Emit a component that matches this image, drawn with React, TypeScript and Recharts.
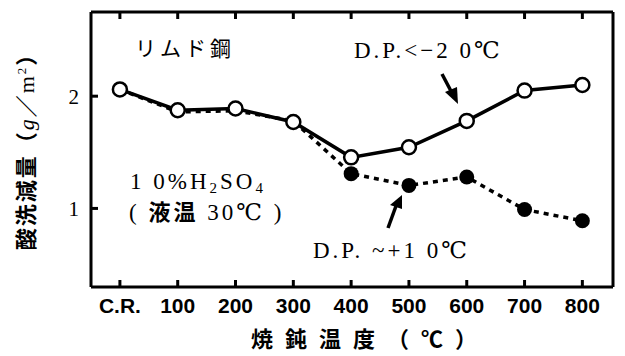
import React from 'react';
import { LineChart, Line, XAxis, YAxis } from 'recharts';

const categories = ['C.R.', '100', '200', '300', '400', '500', '600', '700', '800'];
const dryValues = [2.06, 1.875, 1.89, 1.77, 1.455, 1.545, 1.78, 2.05, 2.1];
const wetValues = [2.06, 1.86, 1.87, 1.78, 1.31, 1.205, 1.28, 0.99, 0.89];
const yTicks = [1, 2];
const xTicks = categories.map((_, i) => i);

const data = categories.map((c, i) => ({ i, name: c, dry: dryValues[i], wet: wetValues[i] }));

const serif = '"Liberation Serif", "DejaVu Serif", serif';
const jp = '"Noto Sans CJK JP", sans-serif';
const frame = { stroke: '#000', strokeWidth: 3 };
const tickStroke = { stroke: '#000', strokeWidth: 3 };

const WetDot = (props: any) => {
  const { cx, cy, index } = props;
  if (index < 4) return <g key={index} />;
  return <circle key={index} cx={cx} cy={cy} r={7.5} fill="#000" />;
};

const App = () => {
  return (
    <div style={{ position: 'absolute', left: 0, top: 0, width: 625, height: 356, background: '#fff' }}>
      <style>{'body{margin:0}'}</style>
      <LineChart width={625} height={356} data={data} margin={{ top: 10, right: 10, bottom: 39, left: 51 }}>
        <XAxis xAxisId="b" dataKey="i" type="number" domain={[-0.5, 8.53]} ticks={xTicks} height={30}
          tickSize={-7} tickMargin={18} tickLine={tickStroke} axisLine={frame}
          tickFormatter={(v: number) => categories[v]}
          tick={{ fill: '#000', fontSize: 21, fontWeight: 'bold', fontFamily: '"Liberation Sans Narrow", "Liberation Sans", sans-serif' }} />
        <XAxis xAxisId="t" orientation="top" dataKey="i" type="number" domain={[-0.5, 8.53]} ticks={xTicks} height={2}
          tickSize={-7} tickMargin={0} tickLine={tickStroke} axisLine={frame} tickFormatter={() => ''} />
        <YAxis yAxisId="l" type="number" domain={[0.3, 2.75]} ticks={yTicks} width={40}
          tickSize={-7} tickMargin={19} tickLine={tickStroke} axisLine={frame}
          tick={{ fill: '#000', fontSize: 21, fontFamily: serif }} />
        <YAxis yAxisId="r" orientation="right" type="number" domain={[0.3, 2.75]} ticks={yTicks} width={2}
          tickSize={-7} tickMargin={0} tickLine={tickStroke} axisLine={frame} tickFormatter={() => ''} />
        <Line xAxisId="b" yAxisId="l" dataKey="wet" type="linear" stroke="#000" strokeWidth={3.5} strokeDasharray="5 5"
          dot={WetDot} isAnimationActive={false} />
        <Line xAxisId="b" yAxisId="l" dataKey="dry" type="linear" stroke="#000" strokeWidth={3.5}
          dot={{ r: 7, fill: '#fff', stroke: '#000', strokeWidth: 2.5 }} isAnimationActive={false} />
      </LineChart>
      <svg width={625} height={356} style={{ position: 'absolute', left: 0, top: 0, pointerEvents: 'none' }}>
        <text transform="translate(34,146) rotate(-90)" textAnchor="middle" fontFamily={jp} fontWeight="bold" fontSize={22} fill="#000" letterSpacing={2}>
          酸洗減量（<tspan fontFamily={serif} fontStyle="italic" fontWeight="normal">g</tspan>／<tspan fontFamily={serif} fontWeight="normal">m</tspan><tspan fontFamily={serif} fontWeight="normal" fontSize={13} dy={-8}>2</tspan><tspan dy={8}>）</tspan>
        </text>
        <text x={370} y={347} textAnchor="middle" fontFamily={jp} fontWeight="bold" fontSize={22} fill="#000" letterSpacing={12}>
          焼鈍温度（℃）
        </text>
        <text x={135} y={56} fontFamily={jp} fontSize={21} fill="#000" letterSpacing={4}>リムド鋼</text>
        <text x={354} y={58} fontFamily={serif} fontSize={23} fill="#000" letterSpacing={3}>D.P.&lt;−2 0℃</text>
        <text x={130} y={189} fontFamily={serif} fontSize={23} fill="#000" letterSpacing={3}>1 0%H<tspan fontSize={15} dy={4}>2</tspan><tspan dy={-4}>SO</tspan><tspan fontSize={15} dy={4}>4</tspan></text>
        <text x={129} y={220} fontFamily={serif} fontSize={23} fill="#000" letterSpacing={3}>( <tspan fontFamily={jp} fontWeight="bold" fontSize={22}>液温</tspan> 30℃ )</text>
        <text x={313} y={258} fontFamily={serif} fontSize={23} fill="#000" letterSpacing={3}>D.P. ~+1 0℃</text>
        <line x1={442} y1={74} x2={452} y2={93} stroke="#000" strokeWidth={3.5} />
        <polygon points="458,104 445,92 457,87" fill="#000" />
        <line x1={388} y1={228} x2={396} y2={206} stroke="#000" strokeWidth={3.5} />
        <polygon points="402,195 390,205 402,209" fill="#000" />
      </svg>
    </div>
  );
};

export default App;
